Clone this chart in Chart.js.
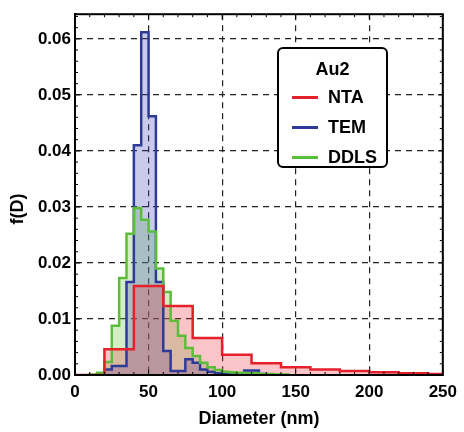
<!DOCTYPE html>
<html>
<head>
<meta charset="utf-8">
<script src="https://cdn.jsdelivr.net/npm/chart.js@4/dist/chart.umd.min.js"></script>
<style>
  html, body { margin: 0; padding: 0; background: #fff; }
  #wrap { position: relative; width: 464px; height: 432px; }
  #legend {
    position: absolute; left: 277px; top: 47px; width: 107px; height: 117px;
    border: 2px solid #000; border-radius: 6px; background: #fff;
    font-family: "Liberation Sans", Arial, sans-serif; font-weight: bold; font-size: 18px;
  }
  #legend div { position: absolute; line-height: 18px; white-space: nowrap; }
  #legend .sw { height: 3px; width: 26px; left: 13px; }
</style>
</head>
<body>
<div id="wrap">
  <canvas id="chart" width="464" height="432"></canvas>
  <div id="legend"></div>
</div>
<script>
const xTicks = [0, 50, 100, 150, 200, 250];
const yTicks = [0, 0.01, 0.02, 0.03, 0.04, 0.05, 0.06];

// NTA histogram, 20 nm bins
const ntaStarts = [0, 20, 40, 60, 80, 100, 120, 140, 160, 180, 200, 220, 240];
const ntaValues = [0, 0.0046, 0.0159, 0.0123, 0.0066, 0.0036, 0.0021, 0.0014, 0.0010, 0.0007, 0.0005, 0.0003, 0.0002];

// TEM histogram, 5 nm bins
const temStarts = [20, 25, 30, 35, 40, 45, 50, 55, 60, 65, 70, 75, 80, 85, 90, 95, 100, 105, 110, 115, 120, 125];
const temValues = [0.0010, 0.0016, 0.0016, 0.0166, 0.0410, 0.0612, 0.0462, 0.0166, 0.0043, 0.0007, 0.0007, 0.0028, 0.0022, 0.0010, 0.0006, 0.0003, 0.0002, 0.0001, 0.0001, 0.0008, 0.0008, 0.0002];

// DDLS histogram, 5 nm bins
const ddlsStarts = [10, 15, 20, 25, 30, 35, 40, 45, 50, 55, 60, 65, 70, 75, 80, 85, 90, 95, 100, 105, 110, 115, 120, 125, 130, 135, 140];
const ddlsValues = [0.0001, 0.0004, 0.0023, 0.0088, 0.0173, 0.0252, 0.0298, 0.0277, 0.0256, 0.0190, 0.0148, 0.0097, 0.0070, 0.0048, 0.0034, 0.0022, 0.0014, 0.0009, 0.0006, 0.0005, 0.0004, 0.0003, 0.0003, 0.0002, 0.0002, 0.0001, 0.0001];

const series = [
  { label: "NTA", starts: ntaStarts, width: 20, values: ntaValues, color: "#e4202a", fill: "rgba(235,45,60,0.28)" },
  { label: "TEM", starts: temStarts, width: 5, values: temValues, color: "#2e3a98", fill: "rgba(60,70,190,0.28)" },
  { label: "DDLS", starts: ddlsStarts, width: 5, values: ddlsValues, color: "#5cbd3a", fill: "rgba(110,200,70,0.3)" },
];

function histPoints(starts, width, values) {
  const pts = [{ x: starts[0], y: 0 }];
  starts.forEach((s, i) => pts.push({ x: s, y: values[i] }));
  const end = starts[starts.length - 1] + width;
  pts.push({ x: end, y: values[values.length - 1] });
  pts.push({ x: end, y: 0 });
  return pts;
}

const FONT = "'Liberation Sans', Arial, sans-serif";

// fills first (behind), outlines on top: red above green above blue
const fillOrder = { NTA: 10, TEM: 11, DDLS: 12 };
const lineOrder = { NTA: 0, TEM: 2, DDLS: 1 };

const datasets = [];
series.forEach((s) => {
  const pts = histPoints(s.starts, s.width, s.values);
  datasets.push({
    label: s.label + " fill", data: pts, borderWidth: 0, borderColor: "rgba(0,0,0,0)",
    backgroundColor: s.fill, fill: "origin", stepped: "before", pointRadius: 0, order: fillOrder[s.label],
  });
  datasets.push({
    label: s.label, data: pts, borderWidth: 2.5, borderColor: s.color,
    fill: false, stepped: "before", pointRadius: 0, order: lineOrder[s.label],
  });
});

const framePlugin = {
  id: "frame",
  afterDraw(chart) {
    const { ctx, chartArea: a, scales } = chart;
    ctx.save();
    // minor / major inward ticks
    ctx.strokeStyle = "#000";
    ctx.lineWidth = 1;
    for (let v = 0; v <= 250.001; v += 10) {
      const px = scales.x.getPixelForValue(v);
      const len = v % 50 === 0 ? 5 : 3;
      ctx.beginPath();
      ctx.moveTo(px, a.bottom); ctx.lineTo(px, a.bottom - len);
      ctx.moveTo(px, a.top); ctx.lineTo(px, a.top + len);
      ctx.stroke();
    }
    for (let i = 0; i <= 32; i++) {
      const v = i * 0.002;
      const py = scales.y.getPixelForValue(v);
      if (py < a.top) continue;
      const len = i % 5 === 0 ? 5 : 3;
      ctx.beginPath();
      ctx.moveTo(a.left, py); ctx.lineTo(a.left + len, py);
      ctx.moveTo(a.right, py); ctx.lineTo(a.right - len, py);
      ctx.stroke();
    }
    // frame
    ctx.lineWidth = 2;
    ctx.strokeRect(a.left, a.top, a.right - a.left, a.bottom - a.top);
    // y axis title
    ctx.fillStyle = "#000";
    ctx.font = "bold 18px " + FONT;
    ctx.translate(18, 209);
    ctx.rotate(-Math.PI / 2);
    ctx.textAlign = "center";
    ctx.textBaseline = "middle";
    ctx.fillText("f(D)", 0, 0);
    ctx.restore();
  },
};

new Chart(document.getElementById("chart"), {
  type: "line",
  data: { datasets },
  options: {
    responsive: false,
    animation: false,
    layout: { padding: { top: 3, right: 17, left: 0, bottom: 0 } },
    plugins: { legend: { display: false }, tooltip: { enabled: false } },
    scales: {
      x: {
        type: "linear",
        min: 0,
        max: 250,
        afterBuildTicks: (scale) => { scale.ticks = xTicks.map((v) => ({ value: v })); },
        afterFit: (scale) => { scale.height = 57; },
        ticks: { color: "#000", font: { family: FONT, weight: "bold", size: 17 }, padding: 7, maxRotation: 0 },
        grid: { color: "#222", lineWidth: 1.2, drawTicks: false },
        border: { display: true, color: "#000", width: 2, dash: [6, 5] },
        title: { display: true, text: "Diameter (nm)", color: "#000", font: { family: FONT, weight: "bold", size: 18 }, padding: { top: 0, bottom: 2 } },
      },
      y: {
        type: "linear",
        min: 0,
        max: 0.0644,
        afterBuildTicks: (scale) => { scale.ticks = yTicks.map((v) => ({ value: v })); },
        afterFit: (scale) => { scale.width = 75; },
        ticks: { color: "#000", font: { family: FONT, weight: "bold", size: 17 }, padding: 4, callback: (v) => v.toFixed(2) },
        grid: { color: "#222", lineWidth: 1.2, drawTicks: false },
        border: { display: true, color: "#000", width: 2, dash: [6, 5] },
      },
    },
  },
  plugins: [framePlugin],
});

// legend box
const legend = document.getElementById("legend");
const title = document.createElement("div");
title.textContent = "Au2";
title.style.left = "0"; title.style.width = "100%"; title.style.textAlign = "center"; title.style.top = "11px";
legend.appendChild(title);
const rowCenters = [48, 78, 108];
series.forEach((s, i) => {
  const sw = document.createElement("div");
  sw.className = "sw";
  sw.style.background = s.color;
  sw.style.top = (rowCenters[i] - 1.5) + "px";
  legend.appendChild(sw);
  const t = document.createElement("div");
  t.textContent = s.label;
  t.style.left = "49px";
  t.style.top = (rowCenters[i] - 9) + "px";
  legend.appendChild(t);
});
</script>
</body>
</html>
